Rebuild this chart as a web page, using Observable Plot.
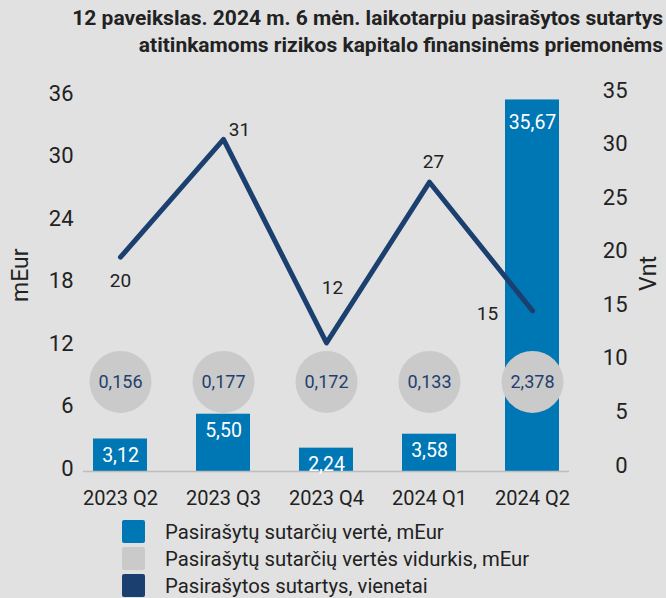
<!DOCTYPE html>
<html>
<head>
<meta charset="utf-8">
<script src="https://cdn.jsdelivr.net/npm/d3@7"></script>
<script src="https://cdn.jsdelivr.net/npm/@observablehq/plot@0.6"></script>
<style>
  html, body { margin: 0; padding: 0; background: #e1e1e1; }
  body { width: 666px; height: 598px; position: relative; overflow: hidden; font-family: Roboto, "Noto Sans", sans-serif; color: #222; }
  #title { position: absolute; top: 5px; right: 3px; text-align: right; font-weight: 700; font-size: 21px; line-height: 27px; white-space: nowrap; }
  #chart { position: absolute; top: 0; left: 0; }
  #legend { position: absolute; top: 518px; left: 122px; }
  .row { display: flex; align-items: center; height: 27px; font-size: 20.3px; line-height: 22px; }
  .sw { width: 23px; height: 23px; border-radius: 2px; margin-right: 20px; flex: none; }
</style>
</head>
<body>
<div id="title"></div>
<div id="chart"></div>
<div id="legend"></div>
<script>
// ---- data ----
const titleLines = [
  "12 paveikslas. 2024 m. 6 mėn. laikotarpiu pasirašytos sutartys",
  "atitinkamoms rizikos kapitalo finansinėms priemonėms"
];
const quarters = ["2023 Q2", "2023 Q3", "2023 Q4", "2024 Q1", "2024 Q2"];
const contractValue = [3.12, 5.50, 2.24, 3.58, 35.67];     // mEur (bars)
const contractAverage = [0.156, 0.177, 0.172, 0.133, 2.378]; // mEur (bubbles)
const contractCount = [20, 31, 12, 27, 15];                // vnt (line)
const leftTicks = [0, 6, 12, 18, 24, 30, 36];
const rightTicks = [0, 5, 10, 15, 20, 25, 30, 35];
const leftMax = 36, rightMax = 35;
const bubbleLevel = 8.6; // row of average-value bubbles, in mEur units
const leftTitle = "mEur", rightTitle = "Vnt";
const legendItems = [
  "Pasirašytų sutarčių vertė, mEur",
  "Pasirašytų sutarčių vertės vidurkis, mEur",
  "Pasirašytos sutartys, vienetai"
];

// ---- colours ----
const cBar = "#0077b5", cBubble = "#c9cac9", cLine = "#1b3f6f", cText = "#222222", cAvgText = "#1f3f6e";

const data = quarters.map((q, i) => ({
  q, v: contractValue[i], avg: contractAverage[i], n: contractCount[i], i
}));
const toLeft = n => n * leftMax / rightMax;
const comma = (d, p) => d.toFixed(p).replace(".", ",");

document.getElementById("title").innerHTML = titleLines.map(t => `<div>${t}</div>`).join("");

const chart = Plot.plot({
  width: 666,
  height: 515,
  marginTop: 96,
  marginBottom: 44,
  marginLeft: 68,
  marginRight: 83,
  style: { background: "transparent", fontFamily: "Roboto, 'Noto Sans', sans-serif", color: cText },
  x: { domain: quarters, paddingInner: 0.476, paddingOuter: 0.238, label: null },
  y: { domain: [0, leftMax], label: null },
  marks: [
    Plot.barY(data, { x: "q", y: "v", fill: cBar }),
    Plot.ruleY([0], { stroke: "#bdbdbd", strokeWidth: 1.5, insetLeft: 15, insetRight: 14 }),
    Plot.dot(data, { x: "q", y: () => bubbleLevel, r: 31, fill: cBubble, stroke: "none" }),
    Plot.text(data, { x: "q", y: () => bubbleLevel, text: d => comma(d.avg, 3), fill: cAvgText, fontSize: 18 }),
    Plot.text(data, { filter: d => d.v < 10, x: "q", y: "v", text: d => comma(d.v, 2), fill: "white", fontSize: 19.5, dy: 17 }),
    Plot.text(data, { filter: d => d.v >= 10, x: "q", y: "v", text: d => comma(d.v, 2), fill: "white", fontSize: 19.5, dy: 23 }),
    Plot.line(data, { x: "q", y: d => toLeft(d.n), stroke: cLine, strokeWidth: 5, strokeLinecap: "round", strokeLinejoin: "round" }),
    // count labels
    Plot.text(data, { filter: d => d.i === 0, x: "q", y: d => toLeft(d.n), text: "n", fill: cText, fontSize: 19, dy: 24 }),
    Plot.text(data, { filter: d => d.i === 1, x: "q", y: d => toLeft(d.n), text: "n", fill: cText, fontSize: 19, dx: 16, dy: -9 }),
    Plot.text(data, { filter: d => d.i === 2, x: "q", y: d => toLeft(d.n), text: "n", fill: cText, fontSize: 19, dx: 6, dy: -55 }),
    Plot.text(data, { filter: d => d.i === 3, x: "q", y: d => toLeft(d.n), text: "n", fill: cText, fontSize: 19, dx: 4, dy: -20 }),
    Plot.text(data, { filter: d => d.i === 4, x: "q", y: d => toLeft(d.n), text: "n", fill: cText, fontSize: 19, dx: -45, dy: 3 }),
    // axes
    Plot.axisX({ tickSize: 0, tickPadding: 19, fontSize: 20, fill: cText, label: null }),
    Plot.axisY({ anchor: "left", ticks: leftTicks, tickSize: 0, tickPadding: 0, dx: 5, dy: -3, fontSize: 22, fill: cText, label: null }),
    Plot.axisY({ anchor: "right", ticks: rightTicks.map(toLeft), tickFormat: d => String(Math.round(d * rightMax / leftMax)),
      tickSize: 0, tickPadding: 0, textAnchor: "end", dx: 44, dy: -6, fontSize: 22, fill: cText, label: null }),
    Plot.text([leftTitle], { frameAnchor: "left", rotate: -90, dx: -48, dy: 18, fontSize: 23, fill: cText }),
    Plot.text([rightTitle], { frameAnchor: "right", rotate: -90, dx: 65, dy: -28, fontSize: 23, fill: cText })
  ]
});
document.getElementById("chart").appendChild(chart);

const legendColors = [cBar, cBubble, cLine];
document.getElementById("legend").innerHTML = legendItems.map((t, i) =>
  `<div class="row"><div class="sw" style="background:${legendColors[i]}"></div><span>${t}</span></div>`).join("");
</script>
</body>
</html>
